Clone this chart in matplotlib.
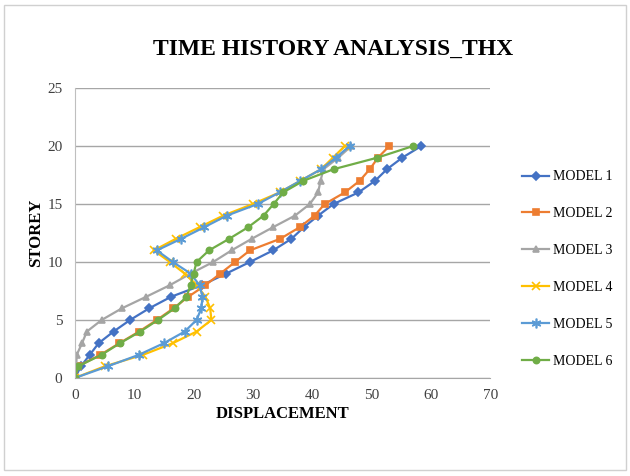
"""
Time history analysis (THX): storey vs displacement for six models,
Excel-style scatter with lines and markers.
Output: out.png
"""
import matplotlib
matplotlib.use('Agg')
import matplotlib.pyplot as plt
from matplotlib.patches import Rectangle

plt.rcParams['font.family'] = ['Liberation Serif', 'DejaVu Serif']

# === Data ===
storey = list(range(0, 21))

model_1 = [0, 1.0, 2.5, 4.0, 6.5, 9.3, 12.5, 16.2, 21.4, 25.5, 29.5,
           33.4, 36.5, 38.6, 41.0, 43.6, 47.8, 50.6, 52.6, 55.2, 58.4]
model_2 = [0, 0.5, 4.3, 7.5, 10.8, 13.8, 16.6, 19.1, 22.0, 24.5, 27.0,
           29.5, 34.6, 37.9, 40.4, 42.1, 45.5, 48.0, 49.7, 51.1, 53.0]
model_3 = [0, 0.2, 0.3, 1.2, 2.0, 4.5, 7.9, 12.0, 16.0, 19.5, 23.3,
           26.4, 29.8, 33.4, 37.1, 39.6, 41.0, 41.4, 41.9, 44.4, 46.6]
model_4 = [0, 5.0, 11.5, 16.5, 20.5, 23.0, 22.8, 22.0, 20.5, 18.5, 16.0,
           13.3, 17.0, 21.0, 25.0, 30.0, 34.5, 38.0, 41.5, 43.5, 45.5]
model_5 = [0, 5.5, 10.8, 15.0, 18.5, 20.5, 21.3, 21.5, 21.0, 19.5, 16.5,
           13.8, 17.9, 21.8, 25.6, 30.8, 34.5, 38.0, 41.5, 44.0, 46.3]
model_6 = [0, 0.5, 4.5, 7.6, 11.0, 14.0, 16.8, 18.8, 19.5, 20.0, 20.5,
           22.6, 26.0, 29.2, 31.8, 33.5, 35.1, 38.5, 43.6, 51.0, 57.0]

series = [model_1, model_2, model_3, model_4, model_5, model_6]
labels = ['MODEL 1', 'MODEL 2', 'MODEL 3', 'MODEL 4', 'MODEL 5', 'MODEL 6']

# Excel default palette + markers
colors  = ['#4472C4', '#ED7D31', '#A5A5A5', '#FFC000', '#5B9BD5', '#70AD47']
markers = ['D', 's', '^', 'x', (6, 2, 0), 'o']
msizes  = [4.5, 4.5, 5, 6, 7, 4.5]

# === Figure ===
fig = plt.figure(figsize=(6.3, 4.76), dpi=100)
fig.patches.append(Rectangle((0.006, 0.012), 0.988, 0.978, transform=fig.transFigure,
                             fill=False, edgecolor='#d0d0d0', linewidth=1.0))

ax = fig.add_axes([0.119, 0.206, 0.659, 0.609])

for vals, lab, c, m, ms in zip(series, labels, colors, markers, msizes):
    ax.plot(vals, storey, color=c, marker=m, markersize=ms, linewidth=1.6,
            markeredgewidth=1.2, label=lab)

ax.set_xlim(0, 70)
ax.set_ylim(0, 25)
ax.set_xticks(range(0, 71, 10))
ax.set_yticks(range(0, 26, 5))
ax.yaxis.grid(True, color='#a6a6a6', linewidth=1.0)
ax.set_axisbelow(True)
for s in ['top', 'right']:
    ax.spines[s].set_visible(False)
ax.spines['left'].set_color('#bfbfbf')
ax.spines['bottom'].set_color('#a6a6a6')
ax.tick_params(axis='both', length=0, labelsize=11, colors='#404040')
ax.tick_params(axis='y', pad=9)
ax.tick_params(axis='x', pad=8)

ax.set_xlabel('DISPLACEMENT', fontsize=12, fontweight='bold', labelpad=3)
ax.set_ylabel('STOREY', fontsize=12, fontweight='bold', labelpad=2)

fig.text(0.528, 0.897, 'TIME HISTORY ANALYSIS_THX', ha='center', va='center',
         fontsize=17, fontweight='bold')

ax.legend(loc='upper left', bbox_to_anchor=(0.828, 0.642), bbox_transform=fig.transFigure,
          frameon=False, fontsize=10, labelspacing=1.72, handlelength=2.0,
          handletextpad=0.25, borderaxespad=0, borderpad=0)

fig.savefig('out.png', dpi=100, facecolor='white')
plt.close()
